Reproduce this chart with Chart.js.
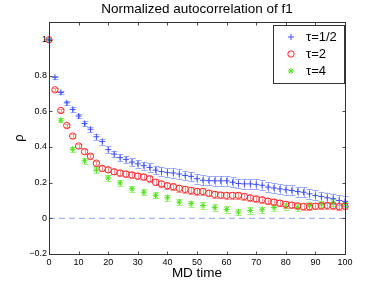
<!DOCTYPE html>
<html>
<head>
<meta charset="utf-8">
<script src="https://cdn.jsdelivr.net/npm/chart.js@4/dist/chart.umd.min.js"></script>
<style>
  html, body { margin: 0; padding: 0; background: #fff; }
  #wrap { width: 382px; height: 287px; }
</style>
</head>
<body>
<div id="wrap"><canvas id="chart" width="382" height="287"></canvas></div>
<script>
// tau = 1/2 and tau = 2 sampled every 2 MD time units
const tauHalfX = [0, 2, 4, 6, 8, 10, 12, 14, 16, 18, 20, 22, 24, 26, 28, 30, 32, 34, 36, 38, 40,
  42, 44, 46, 48, 50, 52, 54, 56, 58, 60, 62, 64, 66, 68, 70, 72, 74, 76, 78, 80,
  82, 84, 86, 88, 90, 92, 94, 96, 98, 100];
const tauHalfY = [1.0, 0.79, 0.705, 0.647, 0.61, 0.573, 0.531, 0.499, 0.457, 0.43, 0.385,
  0.36, 0.34, 0.33, 0.315, 0.305, 0.295, 0.285, 0.27, 0.262, 0.256,
  0.254, 0.248, 0.24, 0.235, 0.222, 0.213, 0.211, 0.21, 0.21, 0.21,
  0.202, 0.195, 0.193, 0.193, 0.19, 0.185, 0.175, 0.17, 0.165, 0.16,
  0.156, 0.15, 0.146, 0.137, 0.128, 0.122, 0.115, 0.11, 0.1, 0.095];
const tauHalfErr = [0, 0.008, 0.01, 0.011, 0.012, 0.013, 0.014, 0.015, 0.016, 0.017, 0.018,
  0.019, 0.02, 0.021, 0.022, 0.022, 0.023, 0.024, 0.024, 0.025, 0.025,
  0.026, 0.026, 0.026, 0.026, 0.027, 0.027, 0.027, 0.027, 0.027, 0.027,
  0.027, 0.027, 0.027, 0.027, 0.028, 0.028, 0.028, 0.028, 0.028, 0.028,
  0.028, 0.028, 0.028, 0.028, 0.028, 0.028, 0.028, 0.028, 0.028, 0.028];

const tau2X = tauHalfX;
const tau2Y = [1.0, 0.72, 0.604, 0.52, 0.461, 0.405, 0.374, 0.348, 0.309, 0.28, 0.272,
  0.261, 0.254, 0.248, 0.243, 0.237, 0.232, 0.222, 0.202, 0.193, 0.183,
  0.178, 0.168, 0.162, 0.156, 0.15, 0.15, 0.141, 0.134, 0.13, 0.128,
  0.128, 0.128, 0.122, 0.115, 0.109, 0.104, 0.096, 0.091, 0.085, 0.078,
  0.074, 0.07, 0.066, 0.065, 0.068, 0.07, 0.072, 0.07, 0.065, 0.068];
const tau2Err = [0, 0.008, 0.009, 0.01, 0.011, 0.012, 0.013, 0.013, 0.014, 0.014, 0.015,
  0.015, 0.015, 0.016, 0.016, 0.016, 0.016, 0.017, 0.017, 0.017, 0.017,
  0.017, 0.018, 0.018, 0.018, 0.018, 0.018, 0.018, 0.018, 0.018, 0.018,
  0.018, 0.018, 0.018, 0.018, 0.018, 0.018, 0.018, 0.018, 0.018, 0.018,
  0.018, 0.018, 0.018, 0.018, 0.018, 0.018, 0.018, 0.018, 0.018, 0.018];

// tau = 4 sampled every 4 units
const tau4X = [0, 4, 8, 12, 16, 20, 24, 28, 32, 36, 40, 44, 48, 52, 56, 60, 64, 68, 72, 76,
  80, 84, 88, 92, 96, 100];
const tau4Y = [1.0, 0.55, 0.387, 0.322, 0.27, 0.226, 0.198, 0.165, 0.146, 0.129, 0.115,
  0.091, 0.082, 0.072, 0.06, 0.05, 0.035, 0.044, 0.048, 0.06, 0.067, 0.06, 0.072, 0.08, 0.088, 0.08];
const tau4Err = [0, 0.012, 0.014, 0.015, 0.015, 0.016, 0.016, 0.016, 0.017, 0.017, 0.017,
  0.017, 0.017, 0.018, 0.018, 0.018, 0.018, 0.018, 0.018, 0.018, 0.018, 0.018, 0.018, 0.018, 0.018, 0.018];

const xTicks = [0, 10, 20, 30, 40, 50, 60, 70, 80, 90, 100];
const yTicks = [-0.2, 0, 0.2, 0.4, 0.6, 0.8, 1];
const yTickLabels = ['\u22120.2', '0', '0.2', '0.4', '0.6', '0.8', '1'];
const zeroLineX = [0, 100];
const zeroLineY = [0, 0];

function points(xs, ys) {
  return xs.map((x, i) => ({ x: x, y: ys[i] }));
}

const FONT = 'Liberation Sans, Arial, Helvetica, sans-serif';

// vertical error bars with caps, drawn under the markers
const errorBars = {
  id: 'errorBars',
  beforeDatasetsDraw(chart) {
    const ctx = chart.ctx;
    const xs = chart.scales.x, ys = chart.scales.y;
    chart.data.datasets.forEach(ds => {
      if (!ds.errors) return;
      ctx.save();
      ctx.strokeStyle = ds.errorColor;
      ctx.lineWidth = 1;
      ds.data.forEach((p, i) => {
        const e = ds.errors[i];
        if (!e) return;
        const px = Math.round(xs.getPixelForValue(p.x)) + 0.5;
        const y1 = ys.getPixelForValue(p.y - e);
        const y2 = ys.getPixelForValue(p.y + e);
        const c = ds.capHalf;
        ctx.beginPath();
        ctx.moveTo(px, y1); ctx.lineTo(px, y2);
        ctx.moveTo(px - c, Math.round(y1) + 0.5); ctx.lineTo(px + c, Math.round(y1) + 0.5);
        ctx.moveTo(px - c, Math.round(y2) + 0.5); ctx.lineTo(px + c, Math.round(y2) + 0.5);
        ctx.stroke();
      });
      ctx.restore();
    });
  }
};

// MATLAB-style box, inward ticks on all four sides, and legend inside the axes
const frame = {
  id: 'frame',
  afterDraw(chart) {
    const ctx = chart.ctx;
    const a = chart.chartArea;
    const xs = chart.scales.x, ys = chart.scales.y;
    const L = Math.round(a.left) + 0.5, R = Math.round(a.right) + 0.5;
    const T = Math.round(a.top) + 0.5, B = Math.round(a.bottom) + 0.5;
    ctx.save();
    ctx.strokeStyle = '#4a4a4a';
    ctx.lineWidth = 1;
    ctx.beginPath();
    xTicks.forEach(v => {
      const px = Math.round(xs.getPixelForValue(v)) + 0.5;
      ctx.moveTo(px, B); ctx.lineTo(px, B - 3);
      ctx.moveTo(px, T); ctx.lineTo(px, T + 3);
    });
    yTicks.forEach(v => {
      const py = Math.round(ys.getPixelForValue(v)) + 0.5;
      ctx.moveTo(L, py); ctx.lineTo(L + 3, py);
      ctx.moveTo(R, py); ctx.lineTo(R - 3, py);
    });
    ctx.stroke();
    ctx.strokeStyle = '#333';
    ctx.strokeRect(L, T, R - L, B - T);

    // legend
    const bx = 273.5, by = 25.5, bw = 71, bh = 58;
    ctx.fillStyle = '#fff';
    ctx.fillRect(bx, by, bw, bh);
    ctx.strokeStyle = '#333';
    ctx.strokeRect(bx, by, bw, bh);
    ctx.font = '13px ' + FONT;
    ctx.textBaseline = 'middle';
    ctx.textAlign = 'left';
    chart.data.datasets.forEach((ds, i) => {
      if (!ds.errors) return;
      const rowY = 37 + i * 17;
      ctx.strokeStyle = ds.borderColor;
      ctx.fillStyle = ds.backgroundColor;
      ctx.lineWidth = 1;
      Chart.helpers.drawPoint(ctx, {
        pointStyle: ds.pointStyle, radius: ds.pointRadius, rotation: 0,
        borderWidth: 1
      }, 291, rowY);
      ctx.fillStyle = '#000';
      ctx.fillText(ds.label, 306, rowY);
    });
    ctx.restore();
  }
};

new Chart(document.getElementById('chart'), {
  type: 'scatter',
  data: {
    datasets: [
      {
        label: '\u03c4=1/2',
        data: points(tauHalfX, tauHalfY),
        errors: tauHalfErr,
        errorColor: 'rgba(130,150,255,0.8)',
        capHalf: 3,
        pointStyle: 'cross',
        pointRadius: 3,
        borderColor: 'rgb(60,80,255)',
        backgroundColor: 'rgb(60,80,255)',
        borderWidth: 1,
        clip: false
      },
      {
        label: '\u03c4=2',
        data: points(tau2X, tau2Y),
        errors: tau2Err,
        errorColor: 'rgba(255,140,140,0.9)',
        capHalf: 3,
        pointStyle: 'circle',
        pointRadius: 3.2,
        borderColor: 'rgb(255,40,40)',
        backgroundColor: 'rgba(255,255,255,0)',
        borderWidth: 1,
        clip: false
      },
      {
        label: '\u03c4=4',
        data: points(tau4X, tau4Y),
        errors: tau4Err,
        errorColor: 'rgba(150,240,110,0.9)',
        capHalf: 3,
        pointStyle: 'star',
        pointRadius: 3,
        borderColor: 'rgb(80,225,30)',
        backgroundColor: 'rgb(80,225,30)',
        borderWidth: 1,
        clip: false
      },
      {
        label: 'zero',
        data: points(zeroLineX, zeroLineY),
        showLine: true,
        pointRadius: 0,
        borderColor: 'rgb(140,160,255)',
        borderWidth: 1,
        borderDash: [6, 4]
      }
    ]
  },
  options: {
    responsive: false,
    animation: false,
    layout: { padding: { left: 0, right: 37, top: 0, bottom: 0 } },
    plugins: {
      legend: { display: false },
      tooltip: { enabled: false },
      title: {
        display: true,
        fullSize: false,
        text: 'Normalized autocorrelation of f1',
        color: '#000',
        font: { family: FONT, size: 13.5, weight: 'normal' },
        padding: { top: 1.5, bottom: 4.3 }
      }
    },
    scales: {
      x: {
        type: 'linear',
        min: 0,
        max: 100,
        afterBuildTicks: s => { s.ticks = xTicks.map(v => ({ value: v })); },
        afterFit: s => { s.height = 33; },
        ticks: { color: '#000', font: { family: FONT, size: 9 }, padding: 3, maxRotation: 0 },
        grid: { display: false, drawTicks: false },
        border: { display: false },
        title: {
          display: true, text: 'MD time', color: '#000',
          font: { family: FONT, size: 13.5 }, padding: { top: 0, bottom: 6 }
        }
      },
      y: {
        type: 'linear',
        min: -0.2,
        max: 1.1,
        afterBuildTicks: s => { s.ticks = yTicks.map(v => ({ value: v })); },
        afterFit: s => { s.width = 49; },
        ticks: {
          color: '#000', font: { family: FONT, size: 9 }, padding: 2,
          callback: (v) => yTickLabels[yTicks.findIndex(t => Math.abs(t - v) < 1e-9)]
        },
        grid: { display: false, drawTicks: false },
        border: { display: false },
        title: {
          display: true, text: '\u03c1', color: '#000',
          font: { family: FONT, size: 13 }, padding: { top: 12, bottom: 0 }
        }
      }
    }
  },
  plugins: [errorBars, frame]
});
</script>
</body>
</html>
